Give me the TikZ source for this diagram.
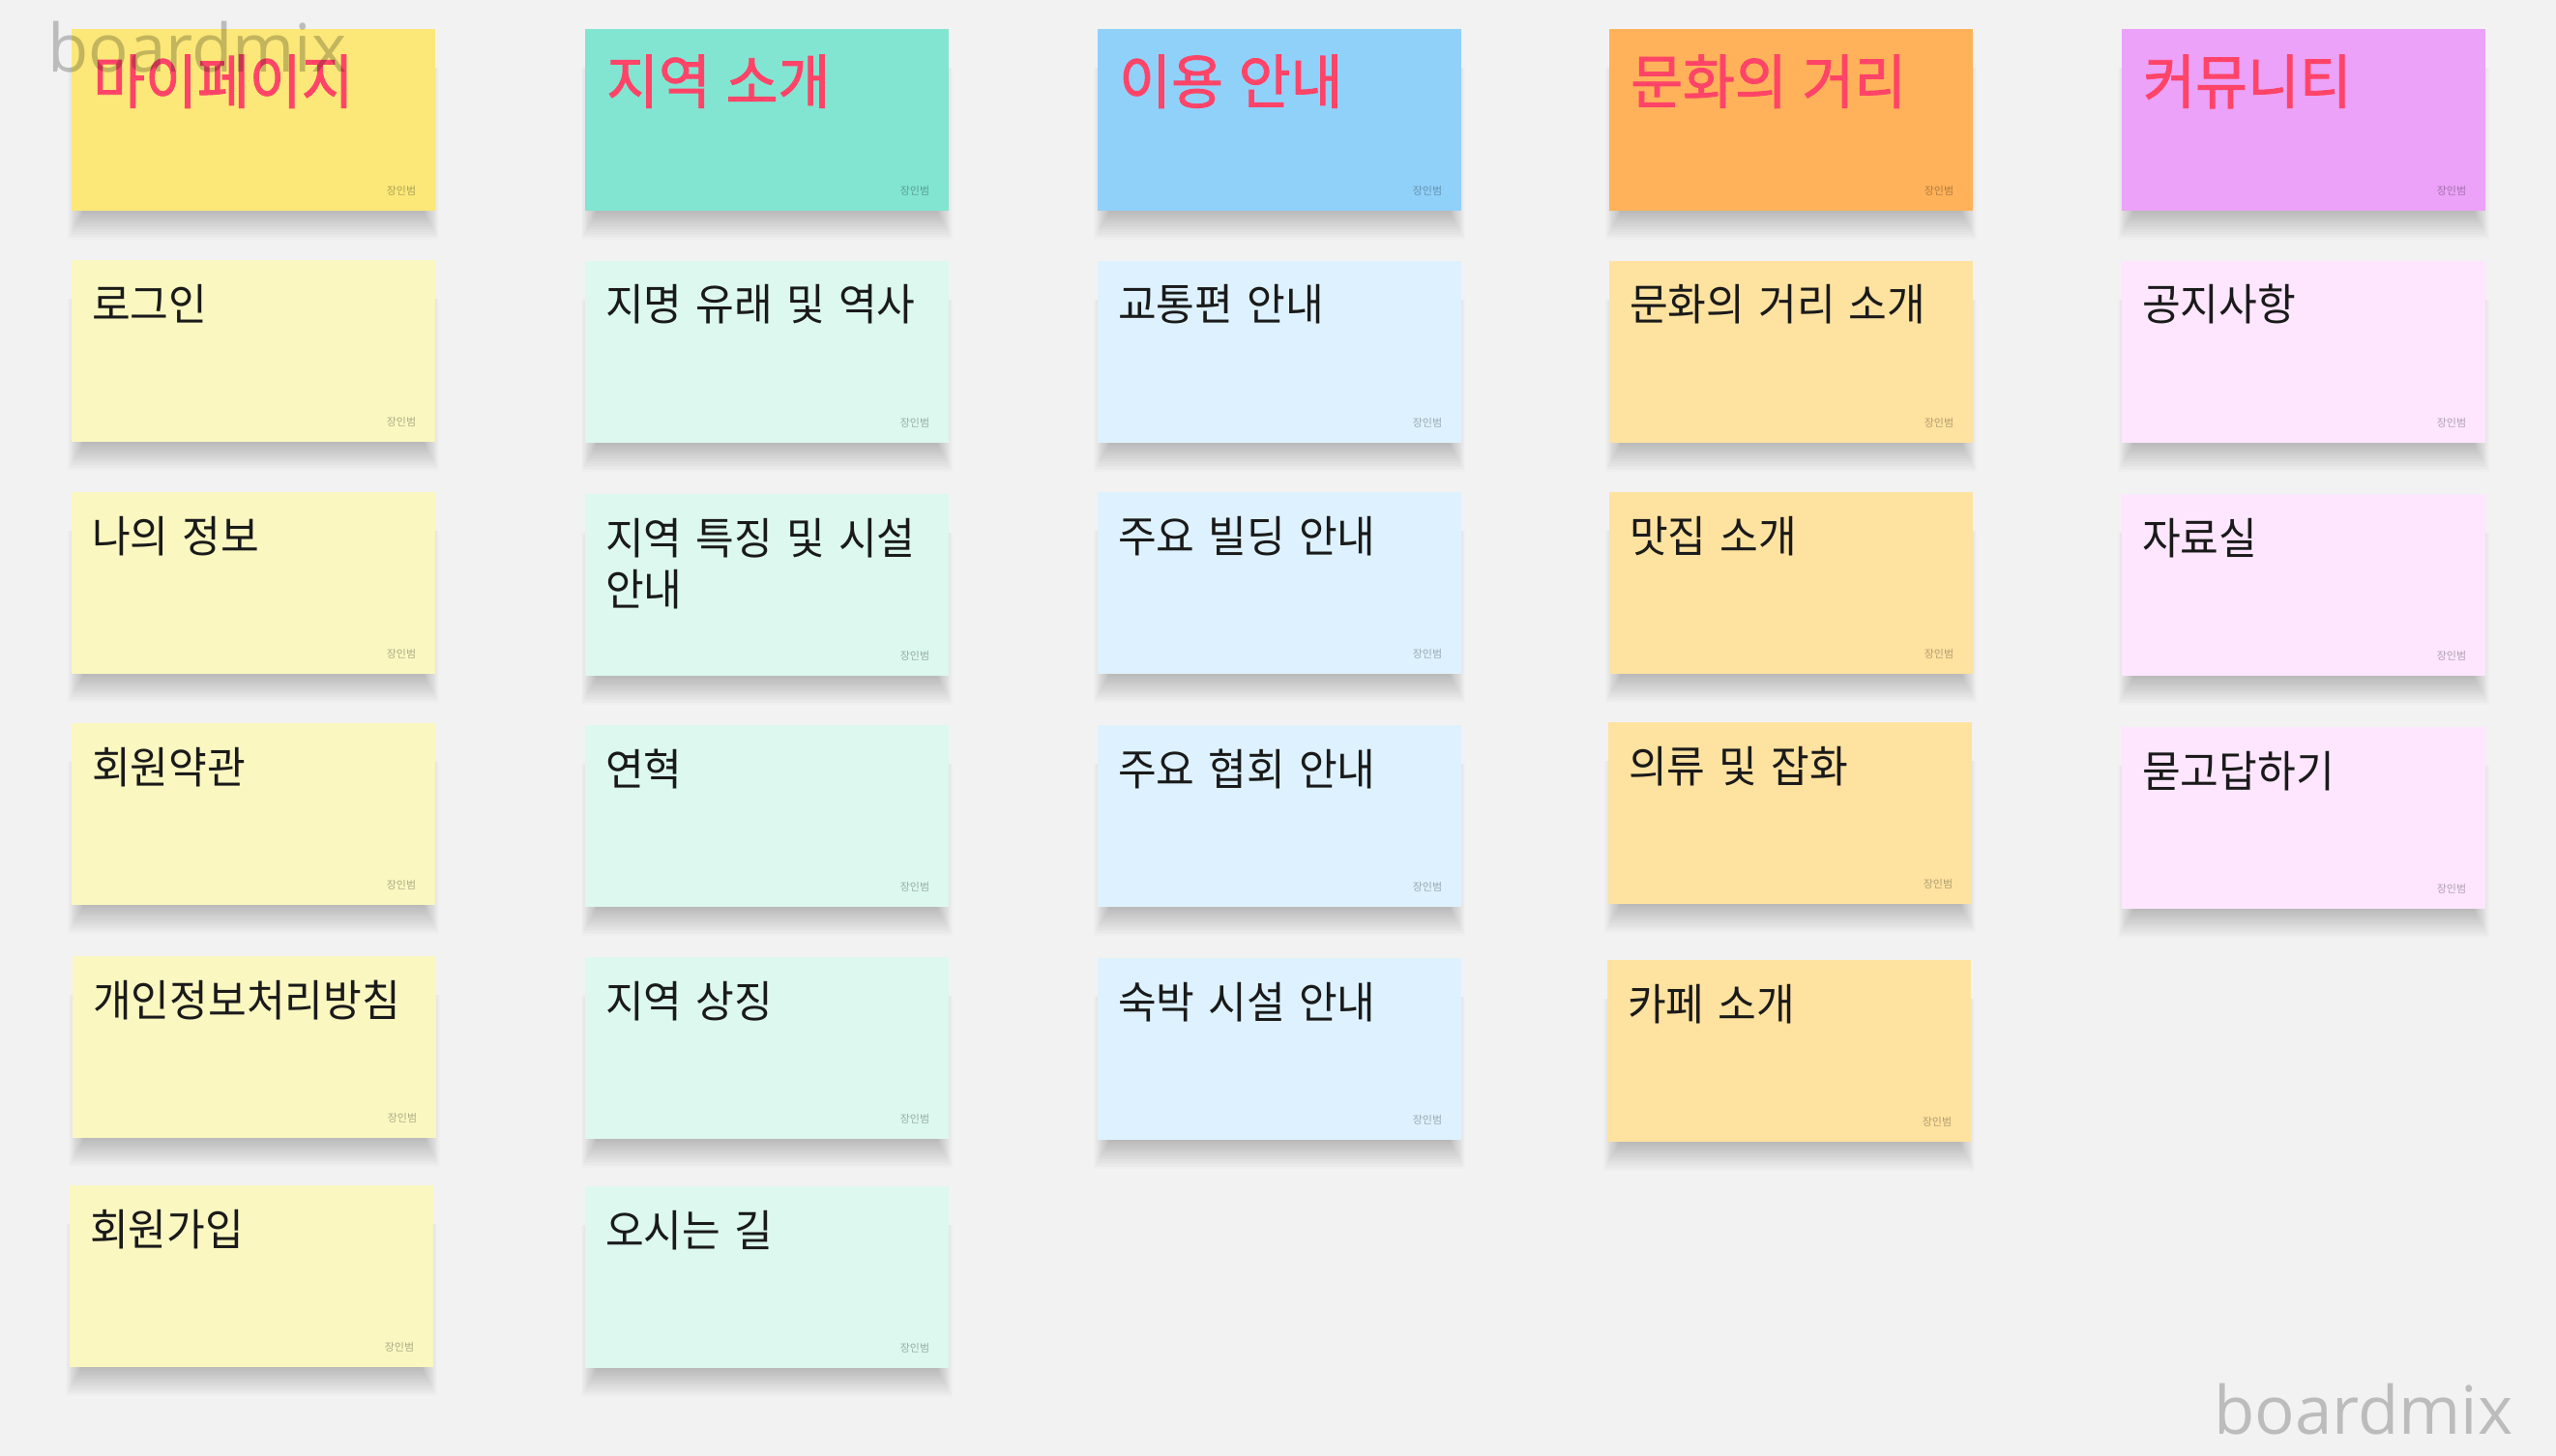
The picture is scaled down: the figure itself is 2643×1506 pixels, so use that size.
\documentclass[tikz,border=0pt]{standalone}
\usepackage{fontspec}
\newfontfamily\kr[FakeStretch=0.96,WordSpace=1.45]{Noto Sans CJK KR}
\newfontfamily\krt[FakeStretch=0.96,FakeBold=1.5,WordSpace=1.2]{Noto Sans CJK KR}
\newfontfamily\krs{Noto Sans CJK KR}
\newfontfamily\wmfont{Open Sans}
\definecolor{bg}{HTML}{F2F2F2}
\definecolor{titlered}{HTML}{FF4468}
\definecolor{bodyink}{HTML}{1A1A1A}
\definecolor{hA}{HTML}{FBE878}\definecolor{bA}{HTML}{FAF7C1}
\definecolor{hB}{HTML}{82E5D2}\definecolor{bB}{HTML}{DCF8EF}
\definecolor{hC}{HTML}{90D1FA}\definecolor{bC}{HTML}{DDF2FE}
\definecolor{hD}{HTML}{FFB25A}\definecolor{bD}{HTML}{FEE2A0}
\definecolor{hE}{HTML}{EBA2F8}\definecolor{bE}{HTML}{FDE6FE}
\tikzset{
  note/.style={rectangle, anchor=north west, inner sep=0pt, draw=none,
    minimum width=376pt, minimum height=188pt},
  shadowlayer/.style={fill=black, opacity=0.010},
  titletext/.style={anchor=base west, inner sep=0pt, xshift=22pt, yshift=-77pt,
    text=titlered, font=\krt\fontsize{61}{70}\selectfont},
  bodytext/.style={anchor=base west, inner sep=0pt, xshift=21pt, yshift=-62pt,
    text=bodyink, align=left, font=\kr\fontsize{45}{53}\selectfont},
  bodytwo/.style={anchor=base west, inner sep=0pt, xshift=21pt, yshift=-115pt,
    text=bodyink, align=left, font=\kr\fontsize{45}{53}\selectfont},
  sig/.style={anchor=base east, inner sep=0pt, xshift=-20pt, yshift=17pt,
    text=black, opacity=0.3, font=\krs\fontsize{11}{13}\selectfont},
  wm/.style={anchor=base west, inner sep=0pt, text=black, opacity=0.22,
    font=\wmfont\fontsize{69}{80}\selectfont}
}
\newcommand\mknote[6]{%
  \foreach \sh in {1,...,20}{%
    \fill[shadowlayer] ({#2+14-\sh*0.9},{#3+40}) rectangle ({#2+362+\sh*0.9},{#3+186+\sh*1.6});
  }
  \node[note, fill=#4] (#1) at (#2,#3) {};
  \node[#6] (#1t) at (#1.north west) {#5};
  \node[sig] (#1s) at (#1.south east) {장인범};
}
\begin{document}
\begin{tikzpicture}[x=1pt,y=-1pt]
\fill[bg] (0,0) rectangle (2643,1506);
\useasboundingbox (0,0) rectangle (2643,1506);
% column 1
\mknote{a0}{74}{30}{hA}{마이페이지}{titletext}
\mknote{a1}{74}{269}{bA}{로그인}{bodytext}
\mknote{a2}{74}{509}{bA}{나의 정보}{bodytext}
\mknote{a3}{74}{748}{bA}{회원약관}{bodytext}
\mknote{a4}{75}{989}{bA}{개인정보처리방침}{bodytext}
\mknote{a5}{72}{1226}{bA}{회원가입}{bodytext}
% column 2
\mknote{b0}{605}{30}{hB}{지역 소개}{titletext}
\mknote{b1}{605}{270}{bB}{지명 유래 및 역사}{bodytext}
\mknote{b2}{605}{511}{bB}{지역 특징 및 시설\\안내}{bodytwo}
\mknote{b3}{605}{750}{bB}{연혁}{bodytext}
\mknote{b4}{605}{990}{bB}{지역 상징}{bodytext}
\mknote{b5}{605}{1227}{bB}{오시는 길}{bodytext}
% column 3
\mknote{c0}{1135}{30}{hC}{이용 안내}{titletext}
\mknote{c1}{1135}{270}{bC}{교통편 안내}{bodytext}
\mknote{c2}{1135}{509}{bC}{주요 빌딩 안내}{bodytext}
\mknote{c3}{1135}{750}{bC}{주요 협회 안내}{bodytext}
\mknote{c4}{1135}{991}{bC}{숙박 시설 안내}{bodytext}
% column 4
\mknote{d0}{1664}{30}{hD}{문화의 거리}{titletext}
\mknote{d1}{1664}{270}{bD}{문화의 거리 소개}{bodytext}
\mknote{d2}{1664}{509}{bD}{맛집 소개}{bodytext}
\mknote{d3}{1663}{747}{bD}{의류 및 잡화}{bodytext}
\mknote{d4}{1662}{993}{bD}{카페 소개}{bodytext}
% column 5
\mknote{e0}{2194}{30}{hE}{커뮤니티}{titletext}
\mknote{e1}{2194}{270}{bE}{공지사항}{bodytext}
\mknote{e2}{2194}{511}{bE}{자료실}{bodytext}
\mknote{e3}{2194}{752}{bE}{묻고답하기}{bodytext}
% watermarks
\node[wm] (wm1) at (49,75) {boardmix};
\node[wm] (wm2) at (2289,1483) {boardmix};
\end{tikzpicture}
\end{document}
